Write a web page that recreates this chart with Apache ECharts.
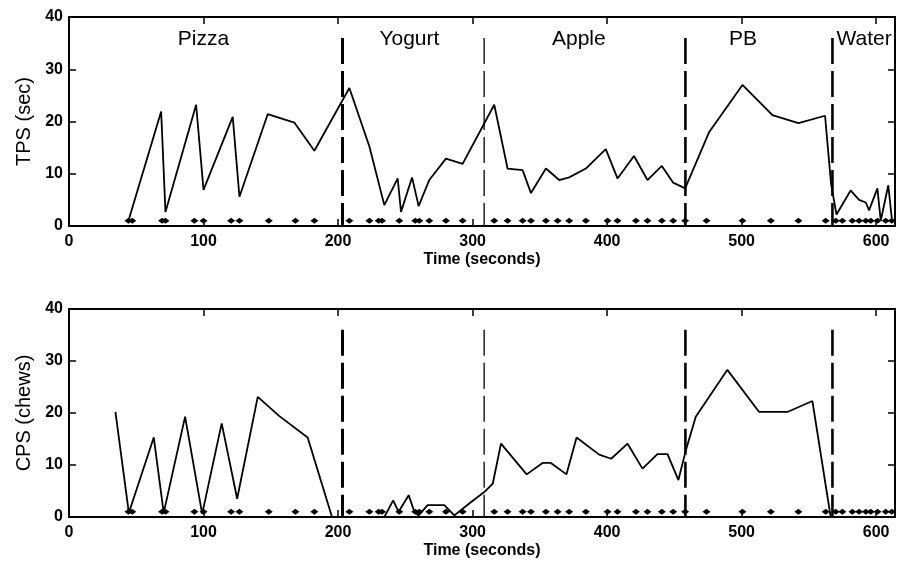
<!DOCTYPE html>
<html>
<head>
<meta charset="utf-8">
<script src="https://cdn.jsdelivr.net/npm/echarts@6/dist/echarts.min.js"></script>
<style>
html,body{margin:0;padding:0;background:#fff;}
#chart{width:898px;height:570px;}
</style>
</head>
<body>
<div id="chart"></div>
<script>
// ---- data ----
const xTicks = [0, 100, 200, 300, 400, 500, 600];
const yTicks = [0, 10, 20, 30, 40];
const foods = ['Pizza', 'Yogurt', 'Apple', 'PB', 'Water'];
const foodLabelX = [100, 253, 379, 501, 591];
const boundaries = [203.3, 308.6, 458.2, 567.5];

const tpsX = [44.2, 68.5, 71.7, 94.5, 100, 121.7, 126.7, 147.7, 167.5, 182.4, 208.4, 223.3, 234.4, 244.3, 246.8, 255, 259.9, 267.8, 280.2, 292.6, 316.1, 326, 337.2, 343.4, 354.5, 364.4, 371.8, 384.2, 399, 407.7, 420, 430, 440.7, 449.1, 458, 475.9, 500.6, 522.9, 542.2, 562, 566.5, 570.5, 581, 587.3, 592.3, 594.7, 600.9, 603.4, 609, 611.6];
const tpsY = [1, 21.9, 2.7, 23.2, 6.9, 20.9, 5.6, 21.4, 19.8, 14.4, 26.4, 15.2, 4.0, 9.1, 2.7, 9.3, 3.8, 8.8, 12.9, 11.9, 23.2, 11, 10.7, 6.3, 11, 8.8, 9.3, 11, 14.7, 9.1, 13.4, 8.8, 11.5, 8.3, 7.2, 18, 27, 21.2, 19.7, 21.1, 8, 2.2, 6.8, 5, 4.5, 3, 7.2, 1, 7.8, 1.5];

const cpsX = [34.5, 44.5, 63, 70.4, 86.3, 99, 113.5, 125, 140.3, 156.4, 177.4, 195.5, 234.4, 241, 245, 252.5, 256.7, 259.9, 266.6, 279, 286.4, 297.5, 308.7, 315, 321.1, 340.2, 352, 358.2, 369.8, 377.3, 394.1, 403, 415.2, 426.3, 437.4, 444.9, 453, 458.5, 465.9, 489.4, 513, 534, 552.6, 566.2];
const cpsY = [20.2, 0.8, 15.3, 0.8, 19.3, 0.6, 18, 3.5, 23.1, 19.4, 15.3, 0, 0, 3.2, 1, 4.2, 1, 0.3, 2.3, 2.3, 0.3, 2.6, 4.8, 6.4, 14.1, 8.2, 10.4, 10.4, 8.2, 15.3, 12, 11.2, 14.1, 9.3, 12.1, 12.1, 7.1, 12.8, 19.3, 28.3, 20.2, 20.2, 22.3, 0];

const eventX = [44.2, 47, 69.2, 71.7, 93.2, 100, 120.5, 126.7, 148.5, 168.3, 182.4, 208.4, 223.3, 230.2, 232.7, 245.5, 257.4, 260.4, 267.8, 280.2, 292.6, 316.1, 326, 337.2, 343.4, 354.5, 363.2, 371.8, 384.2, 400.3, 407.7, 421.4, 430, 440.7, 449.1, 458, 473.9, 500.6, 521.7, 542.2, 562.5, 570, 574.9, 582.3, 587.3, 592.3, 596, 601, 607.1, 611.6];
const eventLevel = 1;
const boundaryTop = 36;
const foodLabelY = 35.8;

// ---- styles ----
const FONT = "'Liberation Sans', Arial, sans-serif";
const X_MAX = 614;
const boundaryWidths = [3, 1.3, 2.6, 2.6];

const chart = echarts.init(document.getElementById('chart'), null, {renderer: 'canvas'});

const zip = (xs, ys) => xs.map((x, i) => [x, ys[i]]);

function xAxes(gi) {
  const base = {
    gridIndex: gi, type: 'value', min: xTicks[0], max: X_MAX, interval: xTicks[1] - xTicks[0],
    splitLine: {show: false},
    axisLine: {show: true, onZero: false, lineStyle: {color: '#000', width: 2}},
    axisTick: {show: true, inside: true, length: 7, lineStyle: {color: '#000', width: 1.5}}
  };
  return [
    Object.assign({}, base, {
      position: 'bottom',
      name: 'Time (seconds)', nameLocation: 'middle', nameGap: 26,
      nameTextStyle: {fontFamily: FONT, fontSize: 16, fontWeight: 'bold', color: '#000'},
      axisLabel: {show: true, margin: 8, fontFamily: FONT, fontSize: 16, fontWeight: 'bold', color: '#000',
        formatter: v => xTicks.indexOf(v) >= 0 ? String(v) : ''}
    }),
    Object.assign({}, base, {position: 'top', axisLabel: {show: false}})
  ];
}
function yAxes(gi, name) {
  const base = {
    gridIndex: gi, type: 'value', min: yTicks[0], max: yTicks[yTicks.length - 1], interval: yTicks[1] - yTicks[0],
    splitLine: {show: false},
    axisLine: {show: true, onZero: false, lineStyle: {color: '#000', width: 2}},
    axisTick: {show: true, inside: true, length: 7, lineStyle: {color: '#000', width: 1.5}}
  };
  return [
    Object.assign({}, base, {
      position: 'left',
      name: name, nameLocation: 'middle', nameGap: 34, nameRotate: 90,
      nameTextStyle: {fontFamily: FONT, fontSize: 20, color: '#000'},
      axisLabel: {show: true, margin: 6, fontFamily: FONT, fontSize: 16, fontWeight: 'bold', color: '#000'}
    }),
    Object.assign({}, base, {position: 'right', axisLabel: {show: false}})
  ];
}

function panelSeries(xi, yi, lineData, withLabels) {
  const s = [];
  boundaries.forEach((b, i) => {
    s.push({
      type: 'line', xAxisIndex: xi, yAxisIndex: yi, symbol: 'none', silent: true,
      data: [[b, boundaryTop], [b, 0]],
      lineStyle: {color: '#000', width: boundaryWidths[i], type: [26, 7]}
    });
  });
  s.push({
    type: 'line', xAxisIndex: xi, yAxisIndex: yi, symbol: 'none',
    data: lineData, lineStyle: {color: '#000', width: 1.8}
  });
  s.push({
    type: 'scatter', xAxisIndex: xi, yAxisIndex: yi, symbol: 'diamond', symbolSize: [8, 6],
    itemStyle: {color: '#000', opacity: 1},
    data: eventX.map(x => [x, eventLevel])
  });
  if (withLabels) {
    s.push({
      type: 'scatter', xAxisIndex: xi, yAxisIndex: yi, symbolSize: 0,
      itemStyle: {opacity: 1},
      data: foods.map((f, i) => ({name: f, value: [foodLabelX[i], foodLabelY]})),
      label: {show: true, position: 'inside', formatter: p => p.name,
        fontFamily: FONT, fontSize: 21, color: '#000', textBorderWidth: 0, opacity: 1}
    });
  }
  return s;
}

const option = {
  animation: false,
  backgroundColor: '#fff',
  grid: [
    {left: 69, right: 3, top: 17, height: 209},
    {left: 69, right: 3, top: 309, height: 208}
  ],
  xAxis: [...xAxes(0), ...xAxes(1)],
  yAxis: [...yAxes(0, 'TPS (sec)'), ...yAxes(1, 'CPS (chews)')],
  series: [
    ...panelSeries(0, 0, zip(tpsX, tpsY), true),
    ...panelSeries(2, 2, zip(cpsX, cpsY), false)
  ]
};
chart.setOption(option);
</script>
</body>
</html>
